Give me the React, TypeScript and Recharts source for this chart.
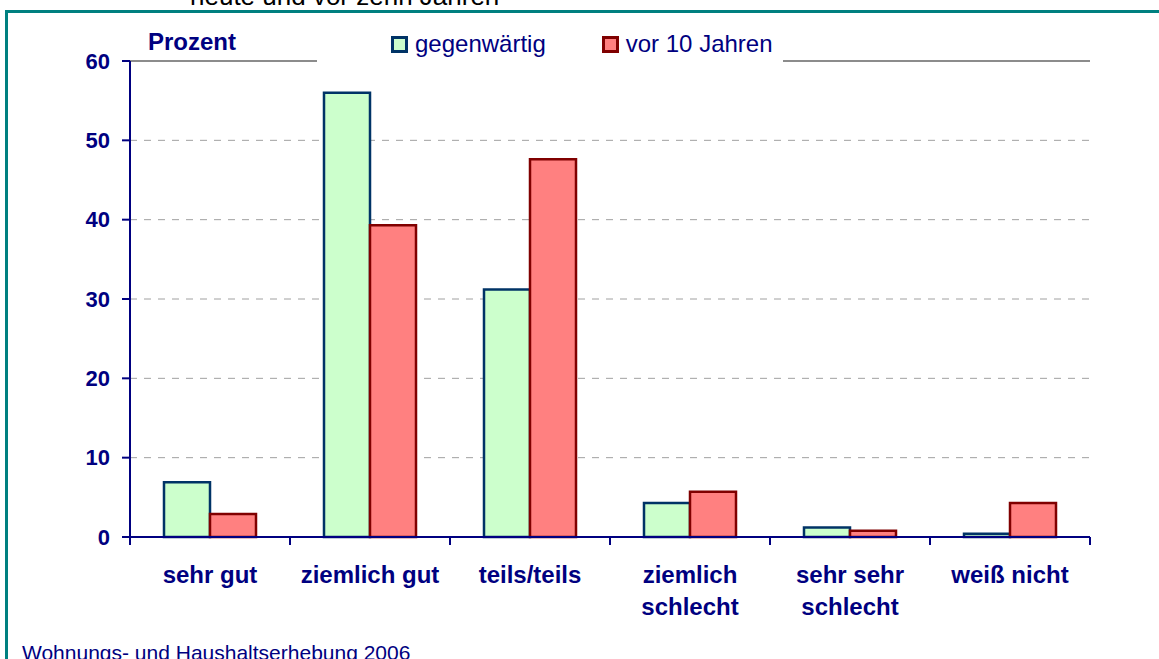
import React from "react";
import {
  BarChart,
  Bar,
  XAxis,
  YAxis,
  CartesianGrid,
  ReferenceLine,
  Legend,
  Label,
} from "recharts";

const categories = [
  "sehr gut",
  "ziemlich gut",
  "teils/teils",
  "ziemlich schlecht",
  "sehr sehr schlecht",
  "weiß nicht",
];
const categoryLines = [
  ["sehr gut"],
  ["ziemlich gut"],
  ["teils/teils"],
  ["ziemlich", "schlecht"],
  ["sehr sehr", "schlecht"],
  ["weiß nicht"],
];
const gegenwaertig = [6.9, 56.0, 31.2, 4.3, 1.2, 0.4];
const vor10Jahren = [2.9, 39.3, 47.6, 5.7, 0.8, 4.3];
const yTicks = [0, 10, 20, 30, 40, 50, 60];

const series = [
  { key: "gegenwaertig", name: "gegenwärtig", fill: "#CCFFCC", stroke: "#003366" },
  { key: "vor10", name: "vor 10 Jahren", fill: "#FF8080", stroke: "#800000" },
];

const data = categories.map((c, i) => ({
  name: c,
  gegenwaertig: gegenwaertig[i],
  vor10: vor10Jahren[i],
}));

const navy = "#000080";
const font = '"Liberation Sans", Arial, sans-serif';

function CategoryTick(props: any) {
  const { x, y, index, visibleTicksCount, width } = props;
  const count = visibleTicksCount ?? categories.length;
  const half = (width ?? 960) / count / 2;
  const lines = categoryLines[index] ?? [props.payload.value];
  return (
    <g>
      <line x1={x - half} y1={y} x2={x - half} y2={y + 8} stroke={navy} strokeWidth={2} />
      {index === count - 1 && (
        <line x1={x + half} y1={y} x2={x + half} y2={y + 8} stroke={navy} strokeWidth={2} />
      )}
      <text
        x={x}
        y={y + 46}
        textAnchor="middle"
        fill={navy}
        fontSize={24}
        fontWeight="bold"
        fontFamily={font}
      >
        {lines.map((l: string, i: number) => (
          <tspan key={i} x={x} dy={i === 0 ? 0 : 32}>
            {l}
          </tspan>
        ))}
      </text>
    </g>
  );
}

function LegendContent() {
  return (
    <div
      style={{
        display: "flex",
        alignItems: "center",
        height: "100%",
        paddingLeft: 74,
        fontFamily: font,
        fontSize: 24,
        color: navy,
      }}
    >
      {series.map((s, i) => (
        <div
          key={s.key}
          style={{ display: "flex", alignItems: "center", marginRight: i === 0 ? 56 : 0 }}
        >
          <span
            style={{
              display: "inline-block",
              width: 11,
              height: 11,
              background: s.fill,
              border: `3px solid ${s.stroke}`,
              marginRight: 7,
            }}
          />
          <span style={{ lineHeight: "24px" }}>{s.name}</span>
        </div>
      ))}
    </div>
  );
}

export default function App() {
  return (
    <div
      style={{
        position: "absolute",
        left: 0,
        top: 0,
        width: 1159,
        height: 659,
        overflow: "hidden",
        background: "#fff",
        fontFamily: font,
      }}
    >
      <div
        style={{
          position: "absolute",
          left: 190,
          top: -17,
          fontSize: 26,
          lineHeight: "26px",
          color: "#000",
          whiteSpace: "nowrap",
        }}
      >
        heute und vor zehn Jahren
      </div>
      <div
        style={{
          position: "absolute",
          left: 5,
          top: 10,
          width: 1300,
          height: 800,
          borderLeft: "3px solid #008080",
          borderTop: "3px solid #008080",
        }}
      />
      <div
        style={{
          position: "absolute",
          left: 22,
          top: 642,
          fontSize: 21,
          lineHeight: "21px",
          color: navy,
          whiteSpace: "nowrap",
        }}
      >
        Wohnungs- und Haushaltserhebung 2006
      </div>
      <div style={{ position: "absolute", left: 0, top: 0 }}>
        <BarChart
          width={1159}
          height={659}
          data={data}
          margin={{ top: 61, right: 69, bottom: 42, left: 80 }}
          barCategoryGap={34}
          barGap={0}
        >
          <CartesianGrid
            vertical={false}
            stroke="#a0a0a0"
            strokeDasharray="7 7"
            strokeWidth={1}
          />
          <ReferenceLine y={60} stroke="#8c8c8c" strokeWidth={2} />
          <XAxis
            dataKey="name"
            height={80}
            interval={0}
            tickLine={false}
            tickSize={0}
            tickMargin={0}
            axisLine={{ stroke: navy, strokeWidth: 2 }}
            tick={<CategoryTick />}
          />
          <YAxis
            width={50}
            domain={[0, 60]}
            ticks={yTicks}
            interval={0}
            tickSize={8}
            tickMargin={12}
            axisLine={{ stroke: navy, strokeWidth: 2 }}
            tickLine={{ stroke: navy, strokeWidth: 2 }}
            tick={{ fill: navy, fontSize: 22, fontWeight: "bold", fontFamily: font }}
          >
            <Label
              content={(p: any) => {
                const vb = p.viewBox || { x: 80, y: 61, width: 50 };
                return (
                  <text
                    x={vb.x + vb.width + 18}
                    y={vb.y - 11}
                    fill={navy}
                    fontSize={24}
                    fontWeight="bold"
                    fontFamily={font}
                  >
                    Prozent
                  </text>
                );
              }}
            />
          </YAxis>
          <YAxis
            yAxisId="right"
            orientation="right"
            width={0}
            domain={[0, 60]}
            tick={false}
            tickLine={false}
            axisLine={{ stroke: "#8c8c8c", strokeWidth: 2 }}
          />
          <Legend
            layout="horizontal"
            verticalAlign="middle"
            align="center"
            content={<LegendContent />}
            wrapperStyle={{
              position: "absolute",
              left: 317,
              top: 22,
              width: 466,
              height: 44,
              background: "#fff",
            }}
          />
          {series.map((s) => (
            <Bar
              key={s.key}
              dataKey={s.key}
              name={s.name}
              fill={s.fill}
              stroke={s.stroke}
              strokeWidth={2.5}
              isAnimationActive={false}
            />
          ))}
        </BarChart>
      </div>
    </div>
  );
}
